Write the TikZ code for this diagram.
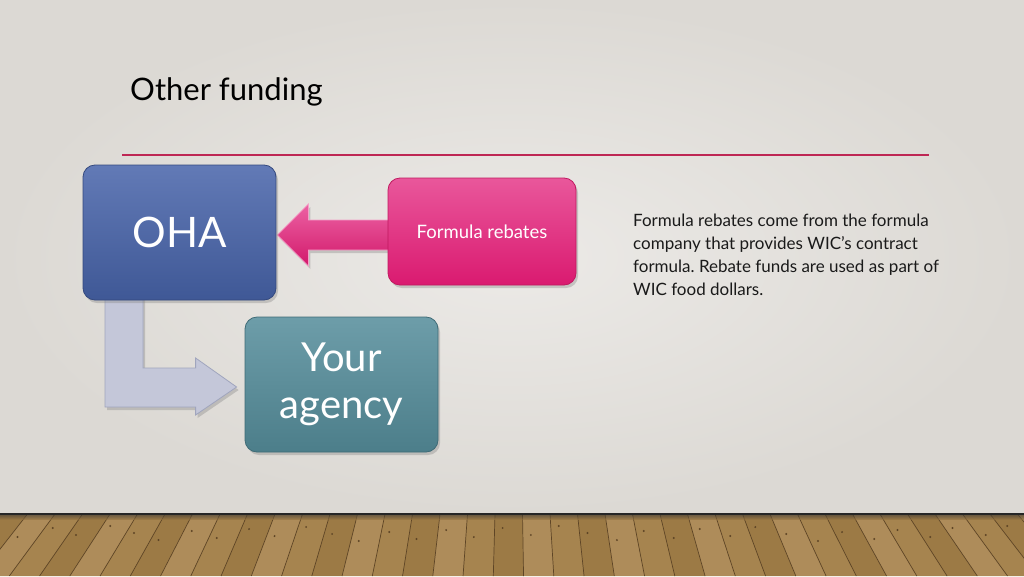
\documentclass[tikz,border=0pt]{standalone}
\usepackage{fontspec}
\setmainfont{Lato}
\usetikzlibrary{calc,shadows}
\definecolor{bgc}{HTML}{DCD9D4}
\definecolor{bgl}{HTML}{ECEAE7}
\definecolor{redline}{HTML}{BE2754}
\definecolor{ohatop}{HTML}{627AB6}
\definecolor{ohabot}{HTML}{3F5896}
\definecolor{ohaedge}{HTML}{34497E}
\definecolor{frtop}{HTML}{E9579B}
\definecolor{frbot}{HTML}{DA1A70}
\definecolor{fredge}{HTML}{C0195F}
\definecolor{agtop}{HTML}{6D9DA9}
\definecolor{agbot}{HTML}{4C7E8A}
\definecolor{agedge}{HTML}{3F6B76}
\definecolor{artop}{HTML}{EC62A3}
\definecolor{arbot}{HTML}{D2196B}
\definecolor{bent}{HTML}{C4C7D9}
\definecolor{bentedge}{HTML}{A0A5BD}
\definecolor{floorbase}{HTML}{A07D48}
\definecolor{plank0}{HTML}{A6844F}
\definecolor{plank1}{HTML}{9C7A45}
\definecolor{plank2}{HTML}{AE8C5A}
\definecolor{plankline}{HTML}{5E4526}
\definecolor{bodytext}{HTML}{1A1A1A}
\pgfdeclarelayer{back}
\pgfdeclarelayer{mid}
\pgfsetlayers{back,mid,main}
\tikzset{
  boxshadow/.style={drop shadow={opacity=0.35,shadow xshift=2pt,shadow yshift=-3pt}},
  ohabox/.style={rounded corners=12pt,minimum width=193pt,minimum height=135pt,
    top color=ohatop,bottom color=ohabot,draw=ohaedge,line width=0.8pt,
    text=white,font=\fontsize{42}{48}\selectfont,boxshadow,inner sep=0pt},
  frbox/.style={rounded corners=12pt,minimum width=188pt,minimum height=107pt,
    top color=frtop,bottom color=frbot,draw=fredge,line width=0.8pt,
    text=white,font=\fontsize{18.5}{22}\selectfont,boxshadow,inner sep=0pt},
  agbox/.style={rounded corners=12pt,minimum width=193pt,minimum height=135pt,
    top color=agtop,bottom color=agbot,draw=agedge,line width=0.8pt,
    text=white,font=\fontsize{40}{47}\selectfont,align=center,boxshadow,inner sep=0pt},
  pinkarrow/.style={top color=artop,bottom color=arbot,draw=white!40!artop,line width=0.8pt,boxshadow},
  bentarrow/.style={fill=bent,draw=bentedge,line width=0.8pt,boxshadow},
  titletext/.style={font=\fontsize{31}{36}\selectfont,text=black,inner sep=0pt},
  bodynode/.style={font=\fontsize{17}{23}\selectfont,text=bodytext,align=left,inner sep=0pt},
}
\frenchspacing
\begin{document}
\begin{tikzpicture}[x=1pt,y=-1pt]
\useasboundingbox (0,0) rectangle (1024,576);
\begin{pgfonlayer}{back}
  \shade[inner color=bgl,outer color=bgc] (0,0) rectangle (1024,514);
  \fill[floorbase] (0,514) rectangle (1024,576);
  \foreach \i in {-8,...,45}{
    \pgfmathsetmacro{\xa}{\i*27.5}
    \pgfmathsetmacro{\xb}{\xa+27.5}
    \pgfmathsetmacro{\xab}{\xa+0.1*(\xa-512)}
    \pgfmathsetmacro{\xbb}{\xb+0.1*(\xb-512)}
    \pgfmathtruncatemacro{\c}{mod(\i+16,3)}
    \pgfmathsetmacro{\ny}{526+mod(\i*7+20,16)}
    \pgfmathsetmacro{\nx}{\xa+8+0.1*(\xa-512)*(\ny-514)/62}
    \fill[plank\c] (\xa,514) -- (\xb,514) -- (\xbb,576) -- (\xab,576) -- cycle;
    \draw[plankline,line width=0.7pt] (\xa,514) -- (\xab,576);
    \fill[plankline] (\nx,\ny) circle (1.1pt);
  }
  \shade[top color=black!80,bottom color=floorbase!90!black,opacity=0.6] (0,514) rectangle (1024,519);
  \draw[black!85,line width=1.5pt] (0,514) -- (1024,514);
\end{pgfonlayer}

\node[titletext,anchor=base west] (title) at (130,100) {Other funding};
\coordinate (rl1) at (122,155);
\coordinate (rl2) at (929,155);
\draw[redline,line width=2.6pt] (rl1) -- (rl2);

\node[ohabox] (oha) at (179.5,232.5) {OHA};
\node[frbox] (fr) at (482,231.5) {Formula rebates};
\node[agbox] (ag) at (341.5,384.5) {Your\\agency};

\begin{pgfonlayer}{mid}
  \coordinate (pt) at ($(oha.east)+(1,2.5)$);
  \path[pinkarrow] (pt) -- ++(31,-31) -- ++(0,16) -- ++(95,0) -- ++(0,30) -- ++(-95,0) -- ++(0,16) -- cycle;
  \coordinate (bt) at ($(ag.west)+(-8,2.5)$);
  \coordinate (b1) at ($(oha.south)+(-74.5,-5)$);
  \coordinate (b2) at ($(oha.south)+(-36.5,-5)$);
  \coordinate (s1) at ($(bt)+(-41,-19)$);
  \coordinate (s2) at ($(bt)+(-41,20)$);
  \coordinate (h1) at ($(bt)+(-41,-29)$);
  \coordinate (h2) at ($(bt)+(-41,28)$);
  \path[bentarrow] (b1) -- (b2) -- (b2 |- s1) -- (s1) -- (h1) -- (bt) -- (h2) -- (s2) -- (b1 |- s2) -- cycle;
\end{pgfonlayer}

\node[bodynode,anchor=north west] (body) at (633,214) {Formula rebates come from the formula\\company that provides WIC’s contract\\formula. Rebate funds are used as part of\\WIC food dollars.};
\end{tikzpicture}
\end{document}
